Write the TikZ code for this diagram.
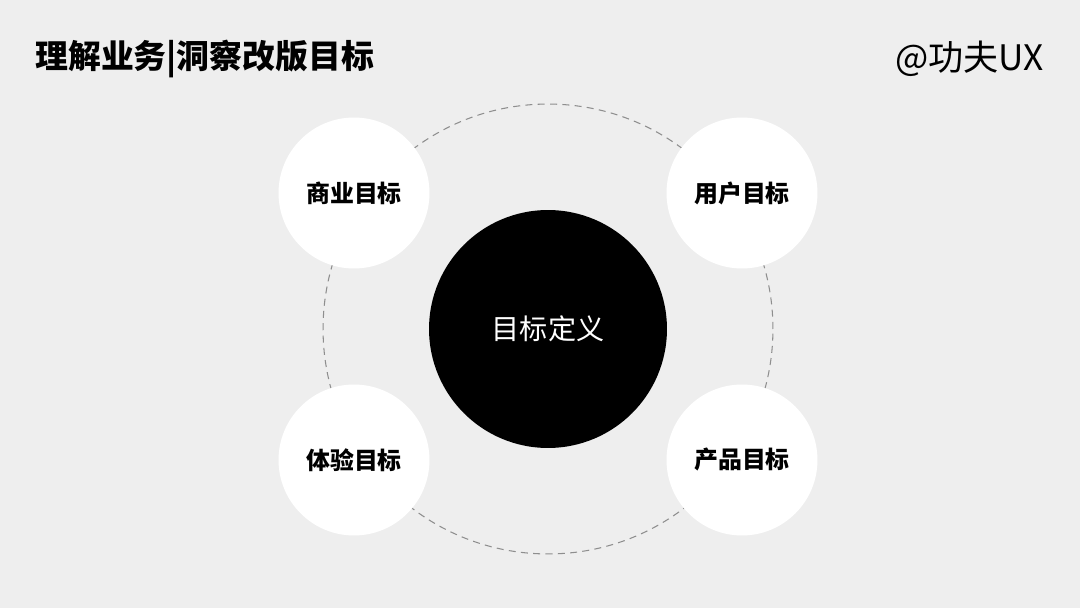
\documentclass[tikz,border=0pt]{standalone}
\usepackage{fontspec}
\setmainfont{Noto Sans CJK SC}
\definecolor{bggray}{HTML}{EEEEEE}
\definecolor{ringgray}{HTML}{8E8E8E}
\tikzstyle{cwhite}=[circle, fill=white, minimum size=3.02cm, inner sep=0pt, font=\fontsize{13.6}{15}\selectfont\bfseries]
\tikzstyle{cblack}=[circle, fill=black, text=white, minimum size=4.76cm, inner sep=0pt, font=\fontsize{16}{18}\selectfont]
\tikzstyle{cring}=[circle, draw=ringgray, dash pattern=on 4pt off 3pt, line width=0.6pt, minimum size=9cm, inner sep=0pt]

\begin{document}
\begin{tikzpicture}[x=0.02cm, y=-0.02cm]

\fill[bggray] (0,0) rectangle (1080,608);
\useasboundingbox (0,0) rectangle (1080,608);

\node[anchor=west, inner sep=0pt, font=\fontsize{18.7}{21}\selectfont\bfseries] (title) at (35,59) {理解业务|洞察改版目标};
\node[anchor=east, inner sep=0pt, font=\fontsize{20}{22}\selectfont] (sign) at (1044,59) {@功夫UX};

\node[cring] (ring) at (548,329) {};

\node[cblack] (goal) at (548,329) {目标定义};

\node[cwhite] (biz) at (354,193) {商业目标};
\node[cwhite] (user) at (742,193) {用户目标};
\node[cwhite] (exp) at (354,460) {体验目标};
\node[cwhite] (prod) at (742,460) {产品目标};

\end{tikzpicture}
\end{document}
